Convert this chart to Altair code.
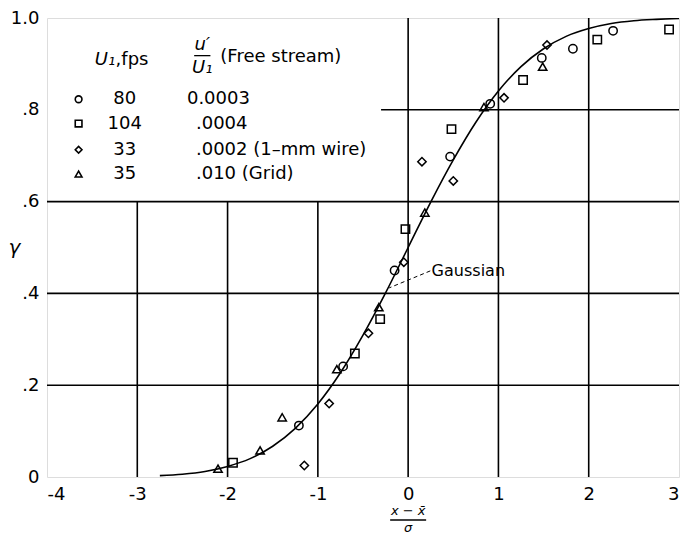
import altair as alt
import pandas as pd

# ---------------- data ----------------
curve_x = [-2.75, -2.5, -2.25, -2.0, -1.75, -1.5, -1.25, -1.0, -0.75, -0.5, -0.25, 0.0,
           0.25, 0.5, 0.75, 1.0, 1.25, 1.5, 1.75, 2.0, 2.25, 2.5, 2.75, 3.0]
curve_y = [0.003, 0.006, 0.012, 0.023, 0.040, 0.067, 0.106, 0.159, 0.227, 0.309, 0.401, 0.500,
           0.599, 0.691, 0.773, 0.841, 0.894, 0.933, 0.960, 0.977, 0.988, 0.994, 0.997, 0.999]

s80_x = [-1.21, -0.72, -0.15, 0.465, 0.909, 1.48, 1.825, 2.27]
s80_y = [0.112, 0.241, 0.450, 0.698, 0.813, 0.913, 0.933, 0.972]

s104_x = [-1.94, -0.59, -0.31, -0.03, 0.48, 1.273, 2.095, 2.89]
s104_y = [0.031, 0.269, 0.344, 0.540, 0.758, 0.865, 0.953, 0.975]

s33_x = [-1.15, -0.875, -0.44, -0.048, 0.153, 0.50, 1.062, 1.538]
s33_y = [0.025, 0.160, 0.313, 0.468, 0.687, 0.645, 0.826, 0.941]

s35_x = [-2.106, -1.64, -1.395, -0.79, -0.325, 0.185, 0.84, 1.49]
s35_y = [0.018, 0.058, 0.130, 0.235, 0.370, 0.576, 0.806, 0.894]

series_names = ["80", "104", "33", "35"]
series_shapes = ["circle", "square", "diamond", "triangle-up"]
legend_intensity = ["0.0003", ".0004", ".0002 (1\u2013mm wire)", ".010 (Grid)"]

x_ticks = [-4, -3, -2, -1, 0, 1, 2, 3]
y_ticks = [0, 0.2, 0.4, 0.6, 0.8, 1.0]

# ---------------- tables ----------------
FONT = "DejaVu Sans"
W, H = 632, 459

xs = alt.Scale(domain=[-4, 3], nice=False, zero=False)
ys = alt.Scale(domain=[0, 1], nice=False, zero=False)

pts = pd.concat([
    pd.DataFrame({"x": s80_x, "y": s80_y, "s": "80"}),
    pd.DataFrame({"x": s104_x, "y": s104_y, "s": "104"}),
    pd.DataFrame({"x": s33_x, "y": s33_y, "s": "33"}),
    pd.DataFrame({"x": s35_x, "y": s35_y, "s": "35"}),
])
curve = pd.DataFrame({"x": curve_x, "y": curve_y})

# gridlines (legend area left free of lines)
grid = pd.DataFrame([
    *[{"x": v, "x2": v, "y": 0, "y2": 0.6} for v in x_ticks[1:4]],
    *[{"x": v, "x2": v, "y": 0, "y2": 1.0} for v in x_ticks[4:7]],
    *[{"x": -4, "x2": 3, "y": v, "y2": v} for v in y_ticks[1:4]],
    {"x": -0.3, "x2": 3, "y": 0.8, "y2": 0.8},
])

shape_enc = alt.Shape("s:N", scale=alt.Scale(domain=series_names, range=series_shapes), legend=None)

xaxis = alt.Axis(values=x_ticks, labelExpr="'' + datum.value", ticks=False, domain=False, grid=False,
                 labelFont=FONT, labelFontSize=18, labelColor="black", labelPadding=8, title=None)
yaxis = alt.Axis(values=y_ticks,
                 labelExpr="datum.value == 0 ? '0' : (datum.value == 1 ? '1.0' : replace(format(datum.value, '.1f'), '0.', '.'))",
                 ticks=False, domain=False, grid=False, labelFont=FONT, labelFontSize=18,
                 labelColor="black", labelPadding=8,
                 title="\u03b3", titleAngle=0, titleFont=FONT, titleFontSize=20, titleFontStyle="italic",
                 titleFontWeight="normal", titleColor="black", titleX=-33, titleY=H / 2,
                 titleAlign="center", titleBaseline="middle")

grid_layer = alt.Chart(grid).mark_rule(color="black", strokeWidth=1.6).encode(
    x=alt.X("x:Q", scale=xs, axis=xaxis), x2="x2:Q",
    y=alt.Y("y:Q", scale=ys, axis=yaxis), y2="y2:Q")

curve_layer = alt.Chart(curve).mark_line(color="black", strokeWidth=1.6, interpolate="monotone", clip=True).encode(
    x=alt.X("x:Q", scale=xs), y=alt.Y("y:Q", scale=ys))

pt_layer = alt.Chart(pts).mark_point(filled=False, color="black", strokeWidth=1.5, size=70, opacity=1).encode(
    x=alt.X("x:Q", scale=xs), y=alt.Y("y:Q", scale=ys), shape=shape_enc)

# Gaussian label and leader
gauss_lead = pd.DataFrame({"x": [0.245], "x2": [-0.21], "y": [0.449], "y2": [0.412]})
lead_layer = alt.Chart(gauss_lead).mark_rule(color="black", strokeWidth=1, strokeDash=[4, 3]).encode(
    x=alt.X("x:Q", scale=xs), x2="x2:Q", y=alt.Y("y:Q", scale=ys), y2="y2:Q")
gauss_txt = alt.Chart(pd.DataFrame({"x": [0.26], "y": [0.449], "t": ["Gaussian"]})).mark_text(
    align="left", baseline="middle", font=FONT, fontSize=16, color="black").encode(
    x=alt.X("x:Q", scale=xs), y=alt.Y("y:Q", scale=ys), text="t:N")

# x-axis title as a stacked fraction below the x = 0 tick
X0 = W * 4 / 7
xt_num = alt.Chart(pd.DataFrame({"t": ["x \u2212 x\u0304"]})).mark_text(
    align="center", baseline="middle", font=FONT, fontSize=13, fontStyle="italic", color="black").encode(
    x=alt.value(X0), y=alt.value(H + 34), text="t:N")
xt_bar = alt.Chart(pd.DataFrame({"t": ["bar"]})).mark_rule(color="black", strokeWidth=1.3).encode(
    x=alt.value(X0 - 18), x2=alt.value(X0 + 18), y=alt.value(H + 43))
xt_den = alt.Chart(pd.DataFrame({"t": ["\u03c3"]})).mark_text(
    align="center", baseline="middle", font=FONT, fontSize=13, fontStyle="italic", color="black").encode(
    x=alt.value(X0), y=alt.value(H + 51), text="t:N")

# legend (drawn inside the plot)
row_y = [0.823, 0.770, 0.713, 0.660]
val_x = [-2.45, -2.35, -2.35, -2.35]
leg = pd.DataFrame({"s": series_names, "y": row_y, "vx": val_x, "val": legend_intensity,
                    "mx": [-3.65] * 4, "nx": [-3.14] * 4})
leg_mark = alt.Chart(leg).mark_point(filled=False, color="black", strokeWidth=1.6, size=45, opacity=1).encode(
    x=alt.X("mx:Q", scale=xs), y=alt.Y("y:Q", scale=ys), shape=shape_enc)
leg_num = alt.Chart(leg).mark_text(align="center", baseline="middle", font=FONT, fontSize=18, color="black").encode(
    x=alt.X("nx:Q", scale=xs), y=alt.Y("y:Q", scale=ys), text="s:N")
leg_val = alt.Chart(leg).mark_text(align="left", baseline="middle", font=FONT, fontSize=18, color="black").encode(
    x=alt.X("vx:Q", scale=xs), y=alt.Y("y:Q", scale=ys), text="val:N")

hdr = pd.DataFrame({
    "x": [-3.47, -3.24, -2.28, -2.28, -2.08],
    "y": [0.908, 0.908, 0.942, 0.892, 0.914],
    "t": ["U\u2081", ",fps", "u\u2032", "U\u2081", "(Free stream)"],
    "st": ["italic", "normal", "italic", "italic", "normal"],
    "al": ["left", "left", "center", "center", "left"],
})
hdr_layers = []
for _, r in hdr.iterrows():
    hdr_layers.append(alt.Chart(pd.DataFrame([r])).mark_text(
        align=r["al"], baseline="middle", font=FONT, fontSize=18, fontStyle=r["st"], color="black").encode(
        x=alt.X("x:Q", scale=xs), y=alt.Y("y:Q", scale=ys), text="t:N"))
frac_bar = alt.Chart(pd.DataFrame({"x": [-2.37], "x2": [-2.19], "y": [0.918], "y2": [0.918]})).mark_rule(
    color="black", strokeWidth=1.3).encode(x=alt.X("x:Q", scale=xs), x2="x2:Q", y=alt.Y("y:Q", scale=ys), y2="y2:Q")

chart = alt.layer(grid_layer, curve_layer, lead_layer, gauss_txt, pt_layer,
                  leg_mark, leg_num, leg_val, frac_bar, xt_num, xt_bar, xt_den, *hdr_layers).properties(
    width=W, height=H,
    padding={"left": 39, "top": 10, "right": 2, "bottom": 58},
    autosize=alt.AutoSizeParams(type="none"),
).configure_view(stroke="black", strokeWidth=2).configure(background="white")

chart.save("out.html", embed_options={"renderer": "svg", "actions": False})
